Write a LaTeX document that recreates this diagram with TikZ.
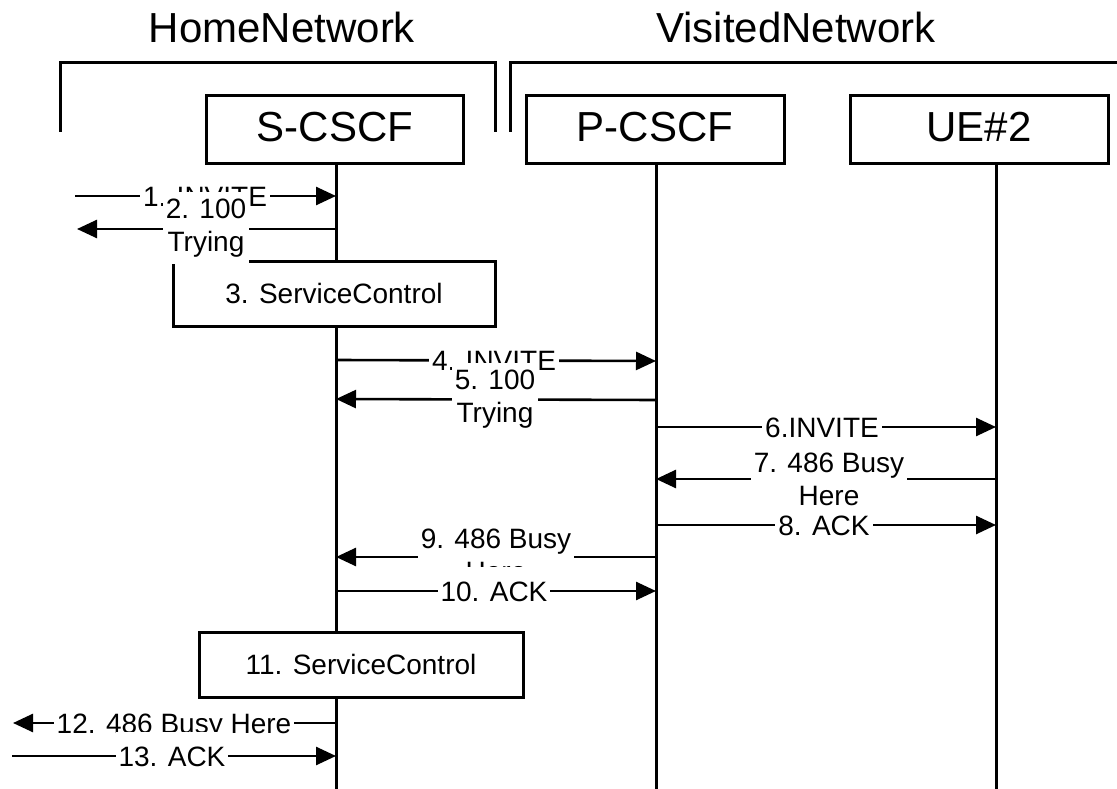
\documentclass[tikz,border=0pt]{standalone}
\usepackage{fontspec}
\setmainfont{Liberation Sans}
\usetikzlibrary{arrows.meta}
\begin{document}
\begin{tikzpicture}[x=1pt,y=-1pt,
  title/.style={font=\fontsize{42}{50}\selectfont, inner sep=0pt},
  entity/.style={draw, line width=3pt, fill=white, minimum height=68pt, inner sep=0pt,
    font=\fontsize{42}{50}\selectfont, text height=32pt, text depth=8pt},
  ctrl/.style={draw, line width=3pt, fill=white, minimum height=65pt, inner sep=0pt,
    font=\fontsize{28}{33}\selectfont},
  bracket/.style={line width=3pt},
  life/.style={line width=3pt},
  msgline/.style={line width=2.6pt, -{Triangle[length=20pt,width=18pt]}},
  msg/.style={fill=white, inner xsep=3pt, font=\fontsize{28}{33}\selectfont},
  one/.style={msg, text height=20pt, text depth=0pt, inner ysep=14pt},
  two/.style={msg, align=center, inner ysep=7pt}]
\useasboundingbox (0,0) rectangle (1117,789);

% titles
\node[title, anchor=base] (home) at (282,43) {HomeNetwork};
\node[title, anchor=base] (visited) at (796,43) {VisitedNetwork};

% brackets
\draw[bracket] (60,132) -- (60,63) -- (495,63) -- (495,132);
\draw[bracket] (510,132) -- (510,63) -- (1120,63);

% lifeline coordinates
\coordinate (sTop) at (336,164);  \coordinate (sBot) at (336,789);
\coordinate (pTop) at (656,164);  \coordinate (pBot) at (656,789);
\coordinate (uTop) at (996,164);  \coordinate (uBot) at (996,789);
\draw[life] (sTop) -- (sBot);
\draw[life] (pTop) -- (pBot);
\draw[life] (uTop) -- (uBot);

% entities
\node[entity, minimum width=257pt] (scscf) at (335,130) {S-CSCF};
\node[entity, minimum width=258pt] (pcscf) at (655,130) {P-CSCF};
\node[entity, minimum width=258pt] (ue) at (979,130) {UE\#2};

% service control boxes
\node[ctrl, minimum width=322pt] (sc3) at (334,293.5) {3. ServiceControl};
\node[ctrl, minimum width=324pt] (sc11) at (361,664.5) {11. ServiceControl};

% arrow end coordinates
\coordinate (a1) at (75,196);   \coordinate (s1) at (336,196);
\coordinate (s2) at (336,229);  \coordinate (a2) at (77,229);
\coordinate (s4) at (336,360);  \coordinate (p4) at (656,361);
\coordinate (p5) at (656,400);  \coordinate (s5) at (336,399);
\coordinate (p6) at (656,427);  \coordinate (u6) at (996,427);
\coordinate (u7) at (996,479);  \coordinate (p7) at (656,479);
\coordinate (p8) at (656,525);  \coordinate (u8) at (996,525);
\coordinate (p9) at (656,557);  \coordinate (s9) at (336,557);
\coordinate (s10) at (336,591); \coordinate (p10) at (656,591);
\coordinate (s12) at (336,723); \coordinate (a12) at (13,723);
\coordinate (a13) at (12,756);  \coordinate (s13) at (336,756);

% arrows
\draw[msgline] (a1) -- (s1);
\draw[msgline] (s2) -- (a2);
\draw[msgline] (s4) -- (p4);
\draw[msgline] (p5) -- (s5);
\draw[msgline] (p6) -- (u6);
\draw[msgline] (u7) -- (p7);
\draw[msgline] (p8) -- (u8);
\draw[msgline] (p9) -- (s9);
\draw[msgline] (s10) -- (p10);
\draw[msgline] (s12) -- (a12);
\draw[msgline] (a13) -- (s13);

% labels (order matters: later ones cover earlier ones)
\node[one] (l1) at (205,196) {1. INVITE};
\node[two] (l2) at (206,228) {2. 100\\Trying};
\node[one] (l4) at (494,360) {4. INVITE};
\node[two] (l5) at (495,399) {5. 100\\Trying};
\node[one] (l6) at (822,427) {6.INVITE};
\node[one] (l8) at (824,525) {8. ACK};
\node[two] (l7) at (829,479) {7. 486 Busy\\Here};
\node[two] (l9) at (496,555) {9. 486 Busy\\Here};
\node[one] (l10) at (494,591) {10. ACK};
\node[one] (l12) at (174,723) {12. 486 Busy Here};
\node[one] (l13) at (172,756) {13. ACK};
\end{tikzpicture}
\end{document}
